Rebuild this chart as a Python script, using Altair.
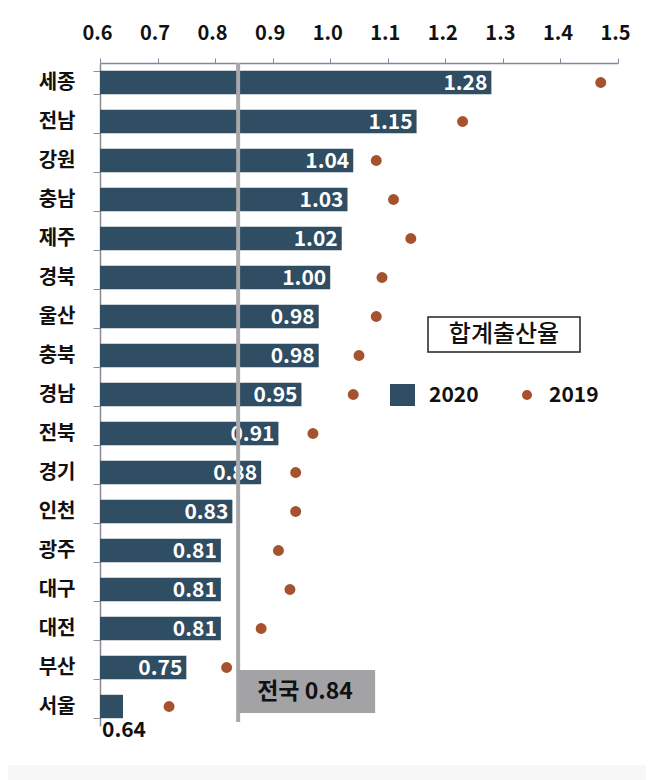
import altair as alt
import pandas as pd

regions = ["세종", "전남", "강원", "충남", "제주", "경북", "울산", "충북", "경남",
           "전북", "경기", "인천", "광주", "대구", "대전", "부산", "서울"]
tfr_2020 = [1.28, 1.15, 1.04, 1.03, 1.02, 1.00, 0.98, 0.98, 0.95,
            0.91, 0.88, 0.83, 0.81, 0.81, 0.81, 0.75, 0.64]
tfr_2019 = [1.47, 1.23, 1.08, 1.11, 1.14, 1.09, 1.08, 1.05, 1.04,
            0.97, 0.94, 0.94, 0.91, 0.93, 0.88, 0.82, 0.72]
national = 0.84
national_label = "전국 0.84"
x_ticks = [0.6, 0.7, 0.8, 0.9, 1.0, 1.1, 1.2, 1.3, 1.4, 1.5]

df = pd.DataFrame({"region": regions, "v2020": tfr_2020, "v2019": tfr_2019})
df["label"] = [f"{v:.2f}" for v in tfr_2020]

BAR = "#2f4d63"
DOT = "#a5532e"
FONT = "Noto Sans CJK KR"

xscale = alt.Scale(domain=[0.6, 1.5], zero=False, nice=False)
yscale = alt.Scale(paddingInner=0.4, paddingOuter=0.2)
yenc = alt.Y("region:N", sort=regions, title=None, scale=yscale,
             axis=alt.Axis(labelFont=FONT, labelFontSize=20, labelFontWeight="bold",
                           labelColor="#111111", tickBand="extent", tickSize=7,
                           labelPadding=18, domainColor="#8c8c96", tickColor="#8c8c96",
                           domainWidth=1.5))
ycat = alt.Y("region:N", sort=regions, scale=yscale)

base = alt.Chart(df)

bars = base.mark_bar(color=BAR).encode(
    x=alt.X("v2020:Q", scale=xscale, title=None,
            axis=alt.Axis(orient="top", values=x_ticks, format=".1f",
                          labelFont=FONT, labelFontSize=20, labelFontWeight="bold",
                          labelColor="#111111", tickSize=5, labelPadding=15,
                          labelOffset=-3, labelFlush=False, labelOverlap=False,
                          domainColor="#8c84a0", tickColor="#8c84a0", grid=False,
                          domainWidth=1.5)),
    x2=alt.datum(0.6),
    y=yenc,
)

labels_in = base.transform_filter(alt.datum.v2020 > 0.7).mark_text(
    align="right", baseline="middle", dx=-4, dy=1, color="white",
    font=FONT, fontSize=21, fontWeight="bold"
).encode(x="v2020:Q", y=ycat, text="label:N")

labels_out = base.transform_filter(alt.datum.v2020 <= 0.7).mark_text(
    align="left", baseline="middle", dx=2, dy=24, color="#111111",
    font=FONT, fontSize=21, fontWeight="bold"
).encode(x=alt.datum(0.6), y=ycat, text="label:N")

dots = base.mark_circle(color=DOT, size=120, opacity=1).encode(
    x="v2019:Q", y=ycat)

nat = pd.DataFrame({"v": [national], "label": [national_label], "x2": [1.078]})
nat_line = alt.Chart(nat).mark_rule(color="#a8a8ab", strokeWidth=4).encode(
    x=alt.X("v:Q", scale=xscale), y=alt.value(0), y2=alt.value(659))
nat_box = alt.Chart(nat).mark_rect(color="#a3a3a6").encode(
    x=alt.X("v:Q", scale=xscale), x2="x2:Q", y=alt.value(607), y2=alt.value(650))
nat_text = alt.Chart(nat).mark_text(
    align="center", baseline="middle", font=FONT, fontSize=23, fontWeight="bold",
    color="#111111").encode(x=alt.value(205), y=alt.value(629), text="label:N")

leg = pd.DataFrame({"t": ["합계출산율"], "a": ["2020"], "b": ["2019"]})
leg_box = alt.Chart(leg).mark_rect(fill="white", stroke="#222222", strokeWidth=1.5).encode(
    x=alt.value(328), x2=alt.value(480), y=alt.value(254), y2=alt.value(289))
leg_title = alt.Chart(leg).mark_text(
    font=FONT, fontSize=24, fontWeight=500, color="#111111", baseline="middle").encode(
    x=alt.value(404), y=alt.value(272), text="t:N")
leg_sq = alt.Chart(leg).mark_rect(color=BAR).encode(
    x=alt.value(290), x2=alt.value(315), y=alt.value(321), y2=alt.value(343))
leg_a = alt.Chart(leg).mark_text(
    font=FONT, fontSize=21, fontWeight="bold", color="#111111", align="left",
    baseline="middle").encode(x=alt.value(329), y=alt.value(333), text="a:N")
leg_dot = alt.Chart(leg).mark_circle(color=DOT, size=100, opacity=1).encode(
    x=alt.value(427), y=alt.value(332))
leg_b = alt.Chart(leg).mark_text(
    font=FONT, fontSize=21, fontWeight="bold", color="#111111", align="left",
    baseline="middle").encode(x=alt.value(449), y=alt.value(333), text="b:N")

band = alt.Chart(leg).mark_rect(color="#f7f7f7").encode(
    x=alt.value(-92), x2=alt.value(546), y=alt.value(702), y2=alt.value(717))

chart = alt.layer(
    band, bars, labels_in, labels_out, dots, nat_line, nat_box, nat_text,
    leg_box, leg_title, leg_sq, leg_a, leg_dot, leg_b
).properties(
    width=518, height=663,
    autosize=alt.AutoSizeParams(type="none"),
    padding={"left": 92, "top": 55, "right": 28, "bottom": 54},
).configure_view(stroke=None)

chart.save("out.html", embed_options={"renderer": "svg", "actions": False})
